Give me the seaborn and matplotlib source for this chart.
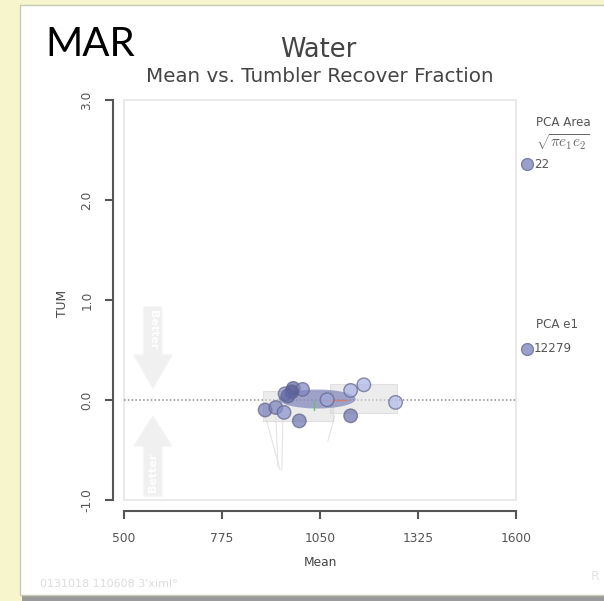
import numpy as np
import pandas as pd
import matplotlib
matplotlib.use("Agg")
import matplotlib.pyplot as plt
import seaborn as sns
from matplotlib.patches import Rectangle, Ellipse, Polygon
from matplotlib.colors import LinearSegmentedColormap

# ---------------- data ----------------
mean_vals = [896, 926, 949, 952, 975, 1001, 971, 960, 992, 1070, 1136, 1173, 1136, 1262]
tum_vals = [-0.10, -0.075, -0.124, 0.062, 0.116, 0.106, 0.082, 0.04, -0.209, 0.003, 0.096, 0.152, -0.158, -0.024]
shade_vals = [0.30, 0.35, 0.50, 0.45, 0.10, 0.40, 0.05, 0.15, 0.25, 0.75, 0.80, 0.85, 0.20, 0.90]

# range boxes (x0, x1, y0, y1)
box_x0 = [890, 1078]
box_x1 = [1087, 1266]
box_y0 = [-0.206, -0.134]
box_y1 = [0.093, 0.165]

# PCA ellipse
pca_center = (1042, 0.01)
pca_size = (216, 0.19)

# faint whiskers
wh_x0 = [896, 926, 946, 1092]
wh_y0 = [-0.155, -0.134, -0.155, -0.155]
wh_x1 = [938, 932, 943, 1072]
wh_y1 = [-0.70, -0.67, -0.70, -0.41]

xticks = [500, 775, 1050, 1325, 1600]
yticks = [-1.0, 0.0, 1.0, 2.0, 3.0]

legend_area_value = "22"
legend_e1_value = "12279"

# ---------------- figure ----------------
sns.set_style("white")
plt.rcParams["font.family"] = ["DejaVu Sans"]
plt.rcParams["mathtext.fontset"] = "cm"

W, H = 604, 601
fig = plt.figure(figsize=(W / 100, H / 100), dpi=100)
fig.patch.set_facecolor("#f7f5cc")

def fx(px):
    return px / W

def fy(py):
    return 1 - py / H

# panel shadow and panel
fig.patches.append(Rectangle((fx(22), fy(601)), fx(604), 596 / H, transform=fig.transFigure,
                             facecolor="#9a9a9a", edgecolor="none", zorder=-3))
fig.patches.append(Rectangle((fx(20), fy(595)), fx(590), 590 / H, transform=fig.transFigure,
                             facecolor="white", edgecolor="#c9c9b8", linewidth=1, zorder=-2))

ax = fig.add_axes([fx(124), fy(500), (516 - 124) / W, 400 / H])
ax.set_zorder(2)
ax.set_facecolor("none")

# light plot box
ax.add_patch(Rectangle((0, 0), 1, 1, transform=ax.transAxes, fill=False,
                       edgecolor="#e6e6e6", linewidth=1.2, clip_on=False, zorder=0))

# faint arrows (decoration)
ax.add_patch(Polygon([[556, 0.93], [606, 0.93], [606, 0.45], [634, 0.45], [581, 0.12],
                      [528, 0.45], [556, 0.45]], closed=True, facecolor="#f0f0f0",
                     edgecolor="#f3f3f3", zorder=1))
ax.add_patch(Polygon([[556, -0.96], [606, -0.96], [606, -0.46], [634, -0.46], [581, -0.165],
                      [528, -0.46], [556, -0.46]], closed=True, facecolor="#f0f0f0",
                     edgecolor="#f3f3f3", zorder=1))
ax.text(581, 0.70, "Better", rotation=-90, ha="center", va="center", color="white",
        fontsize=8, fontweight="bold", zorder=2)
ax.text(581, -0.72, "Better", rotation=90, ha="center", va="center", color="white",
        fontsize=8, fontweight="bold", zorder=2)

# zero line
ax.axhline(0, color="#8a8a8a", linestyle=(0, (1, 1.5)), linewidth=1.1, zorder=2)

# whiskers
for a, b, c, d in zip(wh_x0, wh_y0, wh_x1, wh_y1):
    ax.plot([a, c], [b, d], color="#e4e4e4", linewidth=0.8, zorder=2)

# range boxes
for a, b, c, d in zip(box_x0, box_x1, box_y0, box_y1):
    ax.add_patch(Rectangle((a, c), b - a, d - c, facecolor="#dedede", alpha=0.55,
                           edgecolor="#cfcfcf", linewidth=0.8, zorder=3))

# PCA ellipse
ax.add_patch(Ellipse(pca_center, pca_size[0], pca_size[1], facecolor="#6a70b0",
                     alpha=0.6, edgecolor="none", zorder=4))
ax.plot([pca_center[0] + 22, pca_center[0] + 84], [0, 0], color="#d07a7a", linewidth=1.0, zorder=5)
ax.plot([pca_center[0] - 8, pca_center[0] - 8], [-0.01, -0.10], color="#6cc06c", linewidth=1.0, zorder=5)

# points
cmap = LinearSegmentedColormap.from_list("slate", ["#525793", "#8890cc", "#b9c3f0"])
df = pd.DataFrame({"Mean": mean_vals, "TUM": tum_vals, "shade": shade_vals})
sns.scatterplot(data=df, x="Mean", y="TUM", hue="shade", palette=cmap, hue_norm=(0, 1),
                s=95, alpha=0.7, edgecolor="#60648a", linewidth=1.0, legend=False,
                ax=ax, zorder=6)

# axes styling
ax.set_xlim(500, 1600)
ax.set_ylim(-1, 3)
ax.set_xticks(xticks)
ax.set_yticks(yticks)
ax.set_xlabel("")
ax.set_ylabel("")
sns.despine(ax=ax, offset=8, trim=True)
ax.set_xticklabels([str(v) for v in xticks])
ax.set_yticklabels([f"{v:.1f}" for v in yticks], rotation=90, va="center")
for sp in ["left", "bottom"]:
    ax.spines[sp].set_color("#555555")
    ax.spines[sp].set_linewidth(1.5)
ax.tick_params(axis="both", direction="out", length=6, width=1.5, color="#555555",
               labelcolor="#555555", labelsize=8.8, bottom=True, left=True)
ax.tick_params(axis="x", pad=9)
ax.tick_params(axis="y", pad=8, labelrotation=90)

# axis labels
fig.text(fx(320), fy(562), "Mean", ha="center", va="center", fontsize=8.8, color="#444444")
fig.text(fx(63), fy(303), "TUM", ha="center", va="center", rotation=90, fontsize=8.8, color="#444444")

# titles
fig.text(fx(45), fy(56), "MAR", ha="left", va="baseline", fontsize=29, color="black",
         family=["Lato", "DejaVu Sans"])
fig.text(fx(318.5), fy(57), "Water", ha="center", va="baseline", fontsize=18.5, color="#444444")
fig.text(fx(319.5), fy(82), "Mean vs. Tumbler Recover Fraction", ha="center", va="baseline",
         fontsize=14.3, color="#444444")

# right legend
fig.text(fx(536), fy(122), "PCA Area", ha="left", va="center", fontsize=8.6, color="#555555")
fig.text(fx(536), fy(142), r"$\sqrt{\pi e_1 e_2}$", ha="left", va="center", fontsize=11,
         color="#666666")
fig.text(fx(536), fy(325), "PCA e1", ha="left", va="center", fontsize=8.6, color="#555555")
for py, label in [(164, legend_area_value), (349, legend_e1_value)]:
    fig.add_artist(plt.Line2D([fx(527)], [fy(py)], marker="o", markersize=8.5,
                              markerfacecolor="#9aa0cc", markeredgecolor="#7a80aa",
                              linestyle="none", transform=fig.transFigure))
    fig.text(fx(534), fy(py), label, ha="left", va="center", fontsize=8.6, color="#555555")

# faint footer
fig.text(fx(40), fy(584), "0131018 110608 3'ximl°", ha="left", va="center", fontsize=8,
         color="#dcdcdc")
fig.text(fx(595), fy(577), "R", ha="center", va="center", fontsize=9, color="#e4e4e4")

fig.savefig("out.png", dpi=100, facecolor=fig.get_facecolor())
